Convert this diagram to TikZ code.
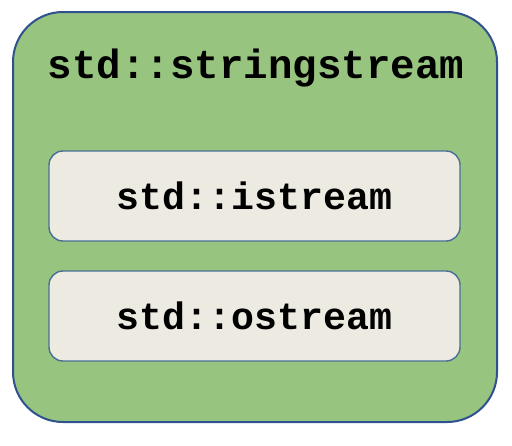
\documentclass[tikz,border=0pt]{standalone}
\usepackage{fontspec}
\setmonofont{Liberation Mono}
\definecolor{outergreen}{HTML}{97C47E}
\definecolor{outerline}{HTML}{2F528F}
\definecolor{innerfill}{HTML}{EDEBE1}
\definecolor{innerline}{HTML}{4A6E96}
\tikzset{
  streambox/.style={draw=innerline, line width=0.7pt, fill=innerfill, rounded corners=7pt,
    minimum width=205.5pt, minimum height=45pt, inner sep=0pt,
    font=\ttfamily\bfseries\fontsize{19.1}{20}\selectfont},
}
\begin{document}
\begin{tikzpicture}[x=0.5pt,y=-0.5pt]
\useasboundingbox (0,0) rectangle (512,445);
\draw[line width=1pt, outerline, fill=outergreen, rounded corners=25pt](13,12) rectangle (497,422);
\node[font=\ttfamily\bfseries\fontsize{20.4}{22}\selectfont] at (256,68) (sstream) {std::stringstream};
\node[streambox] at (254.5,196) (istream) {std::istream};
\node[streambox] at (254.5,316) (ostream) {std::ostream};
\end{tikzpicture}
\end{document}
